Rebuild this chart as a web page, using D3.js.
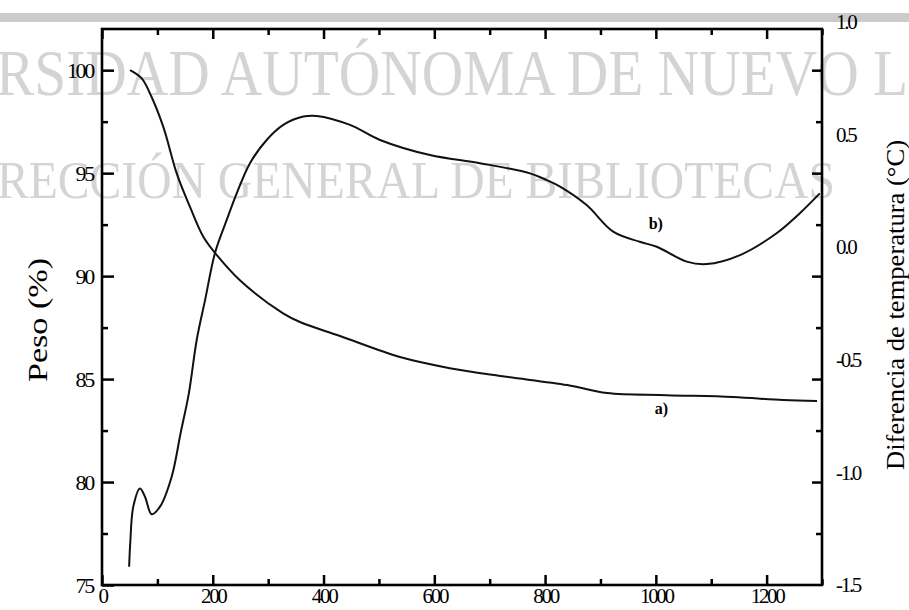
<!DOCTYPE html>
<html><head><meta charset="utf-8">
<script src="https://cdn.jsdelivr.net/npm/d3@7"></script>
<style>body{margin:0;background:#fff}svg{display:block}</style>
</head><body>
<svg id="c" width="909" height="610"></svg>
<script>
// Curve a) : weight loss (left axis)
const tempA   = [50.6, 71.7, 86.7, 110.7, 134.9, 158.9, 182.9, 204, 249, 327, 357.5, 429.7, 538, 628, 719, 840, 912, 1020, 1139, 1230, 1291];
const weightA = [100.0, 99.6, 98.87, 97.25, 94.99, 93.36, 91.91, 91.13, 89.8, 88.19, 87.77, 87.09, 86.07, 85.53, 85.15, 84.71, 84.32, 84.22, 84.13, 83.98, 83.93];
// Curve b) : temperature difference (right axis)
const tempB = [49, 51, 56.5, 68.6, 77.6, 89.7, 104.7, 125.8, 141.9, 156.8, 171, 186.2, 204.2, 225.2, 243.2, 267.2, 297.3, 327.3, 363.5, 387.7, 447.8, 502, 592.2, 682.5, 772.8, 803, 827, 875, 923, 971, 1001.6, 1055.7, 1091.8, 1152, 1218, 1260, 1296];
const diffB = [-1.419, -1.314, -1.152, -1.071, -1.108, -1.186, -1.152, -1.019, -0.826, -0.649, -0.412, -0.234, -0.024, 0.121, 0.239, 0.373, 0.476, 0.543, 0.580, 0.583, 0.543, 0.476, 0.409, 0.373, 0.328, 0.298, 0.269, 0.187, 0.069, 0.024, 0.002, -0.064, -0.075, -0.035, 0.062, 0.151, 0.239];

const xTicksMajor = [0, 200, 400, 600, 800, 1000, 1200];
const xTicksMinor = [100, 300, 500, 700, 900, 1100, 1300];
const yLeftTicks  = [75, 80, 85, 90, 95, 100];
const yLeftMinor  = [77.5, 82.5, 87.5, 92.5, 97.5];
const yRightTicks = [-1.5, -1.0, -0.5, 0.0, 0.5, 1.0];
const watermark1 = "RSIDAD AUTÓNOMA DE NUEVO L";
const watermark2 = "RECCIÓN GENERAL DE BIBLIOTECAS";
const leftTitle = "Peso (%)";
const rightTitle = "Diferencia de temperatura (°C)";

const svg = d3.select("#c");
const L = 102, R = 822, T = 29, B = 585;
const x  = d3.scaleLinear().domain([0, 1300]).range([L, R]);
const yL = d3.scaleLinear().domain([75, 102]).range([B, T]);
const yR = d3.scaleLinear().domain([-1.5, 1.0]).range([B, 22]);
const serif = "'Liberation Serif','Times New Roman',serif";

// scan band at top
svg.append("rect").attr("x", 0).attr("y", 13).attr("width", 909).attr("height", 9).attr("fill", "#cbcbcb");

// watermark
svg.append("text").attr("x", -4).attr("y", 95).attr("textLength", 912).attr("lengthAdjust", "spacingAndGlyphs")
  .attr("font-family", serif).attr("font-size", 66).attr("fill", "#d4d4d4").text(watermark1);
svg.append("text").attr("x", -3).attr("y", 198).attr("textLength", 838).attr("lengthAdjust", "spacingAndGlyphs")
  .attr("font-family", serif).attr("font-size", 52).attr("fill", "#d4d4d4").text(watermark2);

function styleAxis(g, fs) {
  g.select(".domain").remove();
  g.selectAll(".tick line").attr("stroke", "#000").attr("stroke-width", 2.5);
  g.selectAll("text").attr("font-family", serif).attr("font-size", fs).attr("fill", "#000").attr("letter-spacing", -2.3);
}

// bottom axis
svg.append("g").attr("transform", `translate(0,${B})`)
  .call(d3.axisBottom(x).tickValues(xTicksMajor).tickSizeInner(-10).tickSizeOuter(0).tickPadding(3).tickFormat(d3.format("d")))
  .call(g => styleAxis(g, 21));
svg.append("g").attr("transform", `translate(0,${B})`)
  .call(d3.axisBottom(x).tickValues(xTicksMinor).tickSizeInner(-6).tickSizeOuter(0).tickFormat(""))
  .call(g => styleAxis(g, 21));
// top axis (mirror)
svg.append("g").attr("transform", `translate(0,${T})`)
  .call(d3.axisTop(x).tickValues(xTicksMajor).tickSizeInner(-10).tickSizeOuter(0).tickFormat(""))
  .call(g => styleAxis(g, 21));
svg.append("g").attr("transform", `translate(0,${T})`)
  .call(d3.axisTop(x).tickValues(xTicksMinor).tickSizeInner(-6).tickSizeOuter(0).tickFormat(""))
  .call(g => styleAxis(g, 21));

// left axis
svg.append("g").attr("transform", `translate(${L},0)`)
  .call(d3.axisLeft(yL).tickValues(yLeftTicks).tickSizeInner(-12).tickSizeOuter(0).tickPadding(9).tickFormat(d3.format("d")))
  .call(g => styleAxis(g, 22));
svg.append("g").attr("transform", `translate(${L},0)`)
  .call(d3.axisLeft(yL).tickValues(yLeftMinor).tickSizeInner(-6).tickSizeOuter(0).tickFormat(""))
  .call(g => styleAxis(g, 22));
// right axis tick marks (mirror of frame) and labels
svg.append("g").attr("transform", `translate(${R},0)`)
  .call(d3.axisRight(yL).tickValues(yLeftTicks.slice(1)).tickSizeInner(-10).tickSizeOuter(0).tickFormat(""))
  .call(g => styleAxis(g, 22));
svg.append("g").attr("transform", `translate(${R},0)`)
  .call(d3.axisRight(yL).tickValues(yLeftMinor).tickSizeInner(-6).tickSizeOuter(0).tickFormat(""))
  .call(g => styleAxis(g, 22));
svg.append("g").attr("transform", `translate(${R},0)`)
  .call(d3.axisRight(yR).tickValues(yRightTicks).tickSize(0).tickPadding(14).tickFormat(d => d.toFixed(1)))
  .call(g => styleAxis(g, 21));

// frame
svg.append("rect").attr("x", L).attr("y", T).attr("width", R - L).attr("height", B - T)
  .attr("fill", "none").attr("stroke", "#000").attr("stroke-width", 2.6);

// curves
const lineA = d3.line().x((d, i) => x(tempA[i])).y(d => yL(d)).curve(d3.curveCatmullRom.alpha(0.5));
const lineB = d3.line().x((d, i) => x(tempB[i])).y(d => yR(d)).curve(d3.curveCatmullRom.alpha(0.5));
svg.append("path").attr("d", lineA(weightA)).attr("fill", "none").attr("stroke", "#111").attr("stroke-width", 2);
svg.append("path").attr("d", lineB(diffB)).attr("fill", "none").attr("stroke", "#111").attr("stroke-width", 2);

// curve labels
svg.append("text").attr("x", x(1010)).attr("y", yL(84.2) + 18).attr("text-anchor", "middle")
  .attr("font-family", serif).attr("font-weight", "bold").attr("font-size", 16).text("a)");
svg.append("text").attr("x", x(1000)).attr("y", yR(0.08)).attr("text-anchor", "middle")
  .attr("font-family", serif).attr("font-weight", "bold").attr("font-size", 16).text("b)");

// axis titles
svg.append("text").attr("transform", "translate(47,320) rotate(-90)").attr("text-anchor", "middle")
  .attr("textLength", 124).attr("lengthAdjust", "spacingAndGlyphs")
  .attr("font-family", serif).attr("font-size", 27).text(leftTitle);
svg.append("text").attr("transform", "translate(904,305) rotate(-90)").attr("text-anchor", "middle")
  .attr("textLength", 330).attr("lengthAdjust", "spacingAndGlyphs")
  .attr("font-family", serif).attr("font-size", 26).text(rightTitle);
</script>
</body></html>
